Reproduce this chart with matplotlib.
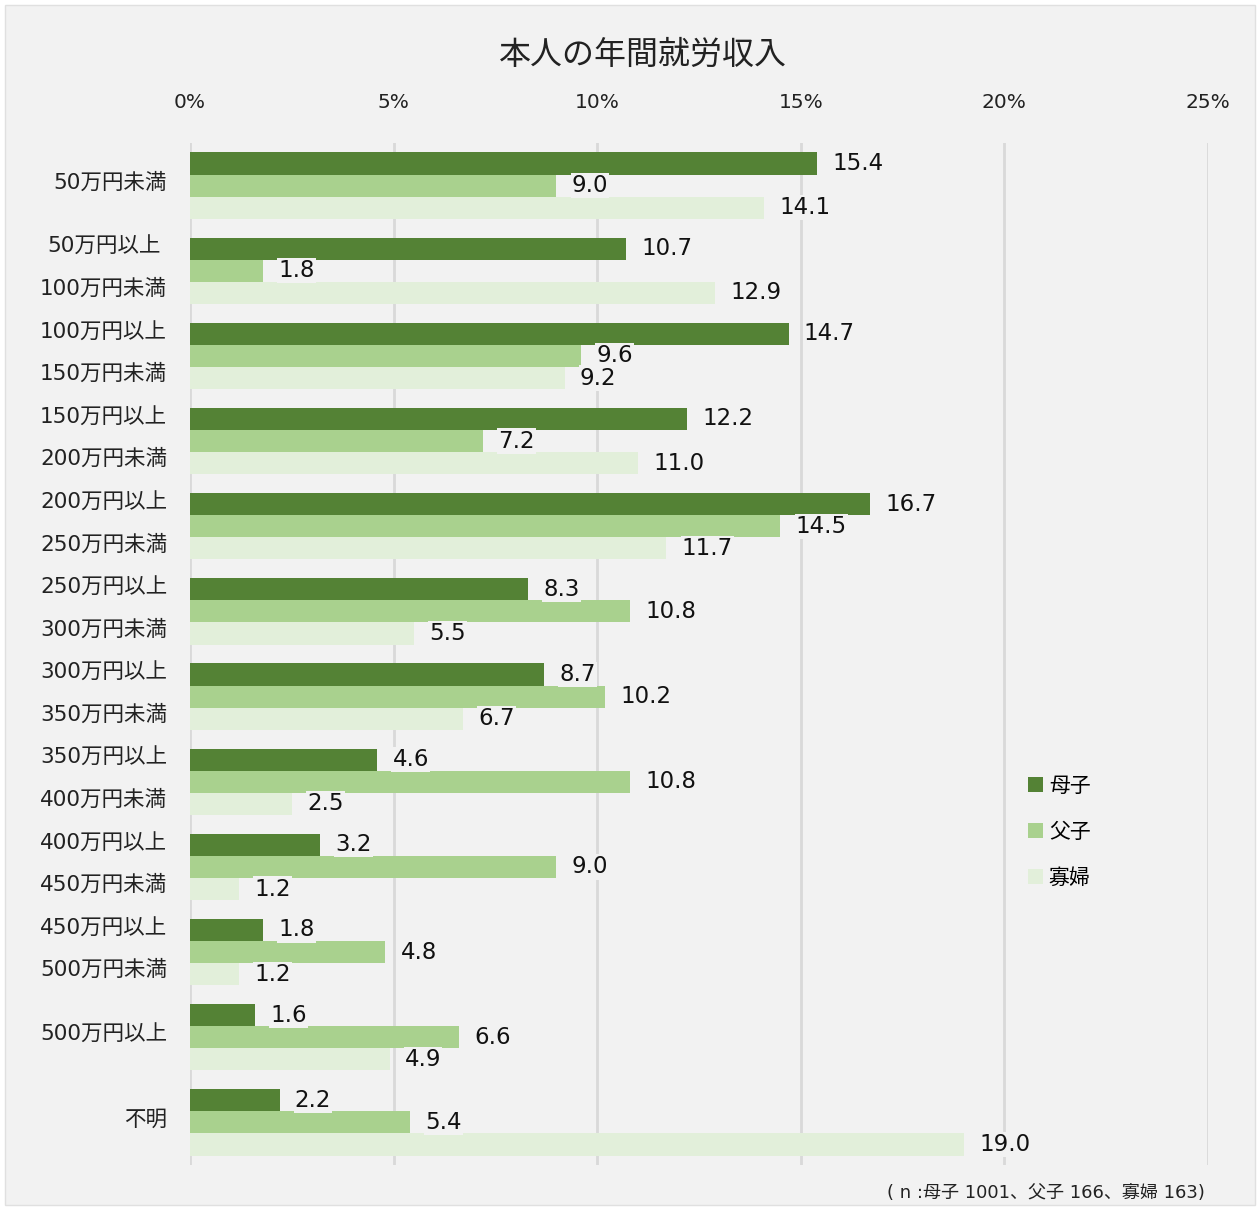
import matplotlib
matplotlib.use("Agg")
import matplotlib.pyplot as plt
from matplotlib.patches import Rectangle
import matplotlib.transforms as mtrans
import numpy as np

plt.rcParams['font.family'] = ['DejaVu Sans', 'Noto Sans CJK JP']

# データ
categories = ["50万円未満", "50万円以上\n100万円未満", "100万円以上\n150万円未満",
              "150万円以上\n200万円未満", "200万円以上\n250万円未満", "250万円以上\n300万円未満",
              "300万円以上\n350万円未満", "350万円以上\n400万円未満", "400万円以上\n450万円未満",
              "450万円以上\n500万円未満", "500万円以上", "不明"]
series_names = ["母子", "父子", "寡婦"]
boshi = [15.4, 10.7, 14.7, 12.2, 16.7, 8.3, 8.7, 4.6, 3.2, 1.8, 1.6, 2.2]
fushi = [9.0, 1.8, 9.6, 7.2, 14.5, 10.8, 10.2, 10.8, 9.0, 4.8, 6.6, 5.4]
kafu = [14.1, 12.9, 9.2, 11.0, 11.7, 5.5, 6.7, 2.5, 1.2, 1.2, 4.9, 19.0]
xticks = [0, 5, 10, 15, 20, 25]
xticklabels = ["0%", "5%", "10%", "15%", "20%", "25%"]

colors = ["#548235", "#a9d18e", "#e2efda"]
bg = "#f2f2f2"

W, H = 1260, 1210
fig = plt.figure(figsize=(W / 100, H / 100), dpi=100, facecolor="white")
fig.patches.append(Rectangle((5 / W, 5 / H), 1250 / W, 1200 / H, transform=fig.transFigure,
                             facecolor=bg, edgecolor="#e0e0e0", lw=1, zorder=-1))

ax = fig.add_axes([190 / W, 1 - 1165 / H, (1208 - 190) / W, (1165 - 143) / H])
ax.set_facecolor("none")

y = np.arange(len(categories))
h = 0.26
for k, vals in enumerate([boshi, fushi, kafu]):
    pos = y + (k - 1) * h
    ax.barh(pos, vals, height=h, color=colors[k], label=series_names[k], zorder=2)
    for p, v in zip(pos, vals):
        ax.annotate(f"{v:.1f}", (v, p), xytext=(11, 0), textcoords="offset points",
                    ha="left", va="center", fontsize=16.5, color="#111111", zorder=4,
                    bbox=dict(boxstyle="square,pad=0.05", fc=bg, ec="none"))

ax.set_xlim(0, 25)
ax.set_ylim(11.5, -0.5)
ax.set_xticks(xticks)
ax.set_xticklabels(xticklabels, fontsize=14.5, color="#222222")
ax.xaxis.tick_top()
ax.tick_params(axis="x", length=0, pad=22)
ax.set_yticks(y)
ax.set_yticklabels([])
ax.tick_params(axis="y", length=0)

# カテゴリラベル(右端揃え、2行は行同士を中央揃え)
renderer = fig.canvas.get_renderer()
trans = mtrans.blended_transform_factory(fig.transFigure, ax.transData)
right_px = 167
for i, lab in enumerate(categories):
    lines = lab.split("\n")
    offs = [2] if len(lines) == 1 else [17, -13]
    tmp = [fig.text(0, 0, ln, fontsize=15.5) for ln in lines]
    wmax = max(t.get_window_extent(renderer).width for t in tmp)
    for t in tmp:
        t.remove()
    cx = (right_px - wmax / 2) / W
    for line, o in zip(lines, offs):
        ax.annotate(line, (cx, i), xycoords=trans, xytext=(0, o), textcoords="offset points",
                    ha="center", va="center", fontsize=15.5, color="#222222")

ax.grid(axis="x", color="#d9d9d9", lw=2, zorder=0)
for s in ax.spines.values():
    s.set_visible(False)

fig.text(643 / W, 1 - 55 / H, "本人の年間就労収入", ha="center", va="center",
         fontsize=23, color="#222222")

fig.legend(loc="center left", bbox_to_anchor=(1028 / W, 1 - 832 / H), frameon=False,
           fontsize=15, handlelength=0.7, handleheight=0.7, handletextpad=0.3,
           labelspacing=1.25, borderpad=0, borderaxespad=0)

fig.text(1205 / W, 1 - 1193 / H, "( n :母子 1001、父子 166、寡婦 163)", ha="right",
         va="center", fontsize=13, color="#222222")

fig.savefig("out.png", dpi=100, facecolor="white")
